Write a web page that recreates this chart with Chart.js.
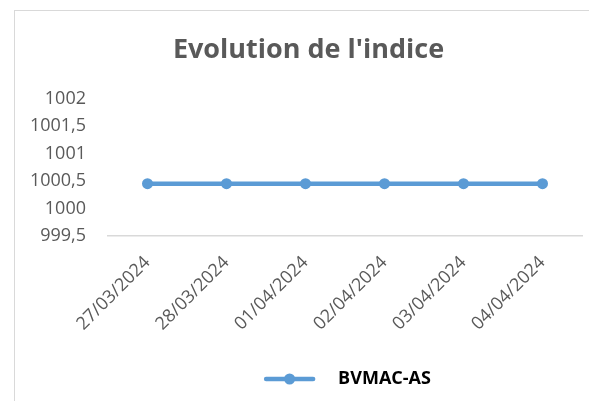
<!DOCTYPE html>
<html>
<head>
<meta charset="utf-8">
<script src="https://cdn.jsdelivr.net/npm/chart.js@4"></script>
<style>
  html, body { margin: 0; padding: 0; background: #ffffff; }
  body { width: 589px; height: 401px; overflow: hidden; position: relative; }
  #frame { position: absolute; left: 14px; top: 10px; width: 600px; height: 420px;
           border-left: 1.5px solid #d9d9d9; border-top: 1.5px solid #d9d9d9; }
  #wrap { position: absolute; left: 15px; top: 11px; width: 574px; height: 390px; }
</style>
</head>
<body>
<div id="frame"></div>
<div id="wrap"><canvas id="c" width="574" height="390"></canvas></div>
<script>
const categories = ['27/03/2024', '28/03/2024', '01/04/2024', '02/04/2024', '03/04/2024', '04/04/2024'];
const seriesName = 'BVMAC-AS';
const seriesValues = [1000.45, 1000.45, 1000.45, 1000.45, 1000.45, 1000.45];
const yTicks = [999.5, 1000, 1000.5, 1001, 1001.5, 1002];

const LINE_COLOR = '#5b9bd5';
const TEXT_COLOR = '#595959';
const FONT = '"Open Sans", "DejaVu Sans", sans-serif';
const LEGEND_SHIFT = 50;
const TITLE_SHIFT = 10;

const legendLine = {
  id: 'legendLine',
  afterLayout(chart) {
    const lg = chart.legend;
    lg.left += LEGEND_SHIFT; lg.right += LEGEND_SHIFT;
    if (lg.legendHitBoxes) lg.legendHitBoxes.forEach(h => { h.left += LEGEND_SHIFT; });
    const tb = chart.titleBlock;
    if (tb) { tb.left += TITLE_SHIFT; tb.right += TITLE_SHIFT; }
  },
  afterDraw(chart) {
    const lg = chart.legend;
    if (!lg || !lg.legendHitBoxes || !lg.legendHitBoxes.length) return;
    const h = lg.legendHitBoxes[0];
    const ctx = chart.ctx;
    const cy = h.top + h.height / 2;
    const x0 = h.left, x1 = h.left + 47;
    ctx.save();
    ctx.strokeStyle = LINE_COLOR; ctx.lineWidth = 4.5; ctx.lineCap = 'round';
    ctx.beginPath(); ctx.moveTo(x0, cy); ctx.lineTo(x1, cy); ctx.stroke();
    ctx.fillStyle = LINE_COLOR;
    ctx.beginPath(); ctx.arc((x0 + x1) / 2, cy, 5.5, 0, Math.PI * 2); ctx.fill();
    ctx.restore();
  }
};

new Chart(document.getElementById('c'), {
  type: 'line',
  data: {
    labels: categories,
    datasets: [{
      label: seriesName,
      data: seriesValues,
      borderColor: LINE_COLOR,
      backgroundColor: LINE_COLOR,
      borderWidth: 4.5,
      pointRadius: 5.5,
      pointBackgroundColor: LINE_COLOR,
      pointBorderWidth: 0,
      tension: 0
    }]
  },
  options: {
    responsive: false,
    animation: false,
    devicePixelRatio: 1,
    layout: { padding: { left: 0, right: 7, top: 0, bottom: 3 } },
    plugins: {
      title: {
        display: true,
        text: "Evolution de l'indice",
        color: TEXT_COLOR,
        font: { family: FONT, size: 27, weight: 'bold' },
        padding: { top: 23, bottom: 32 }
      },
      legend: {
        display: true,
        position: 'bottom',
        labels: {
          color: '#000000',
          font: { family: FONT, size: 18, weight: 'bold' },
          boxWidth: 63,
          boxHeight: 5,
          padding: 10,
          generateLabels(chart) {
            return chart.data.datasets.map((ds, i) => ({
              text: ds.label,
              fillStyle: 'rgba(0,0,0,0)',
              strokeStyle: 'rgba(0,0,0,0)',
              lineWidth: 0,
              datasetIndex: i,
              fontColor: '#000000'
            }));
          }
        }
      },
      tooltip: { enabled: false }
    },
    scales: {
      x: {
        offset: true,
        grid: { display: false, drawTicks: false },
        border: { display: true, color: '#d9d9d9', width: 1.5 },
        ticks: {
          color: TEXT_COLOR,
          font: { family: FONT, size: 18 },
          minRotation: 45,
          maxRotation: 45,
          padding: 16,
          autoSkip: false
        },
        afterFit(scale) { scale.height = 124; }
      },
      y: {
        min: yTicks[0],
        max: yTicks[yTicks.length - 1],
        grid: { display: false, drawTicks: false },
        border: { display: false },
        afterBuildTicks(scale) { scale.ticks = yTicks.map(v => ({ value: v })); },
        ticks: {
          color: TEXT_COLOR,
          font: { family: FONT, size: 18 },
          padding: 22,
          callback: (v) => String(v).replace('.', ',')
        },
        afterFit(scale) { scale.width = 93; }
      }
    }
  },
  plugins: [legendLine]
});
</script>
</body>
</html>
